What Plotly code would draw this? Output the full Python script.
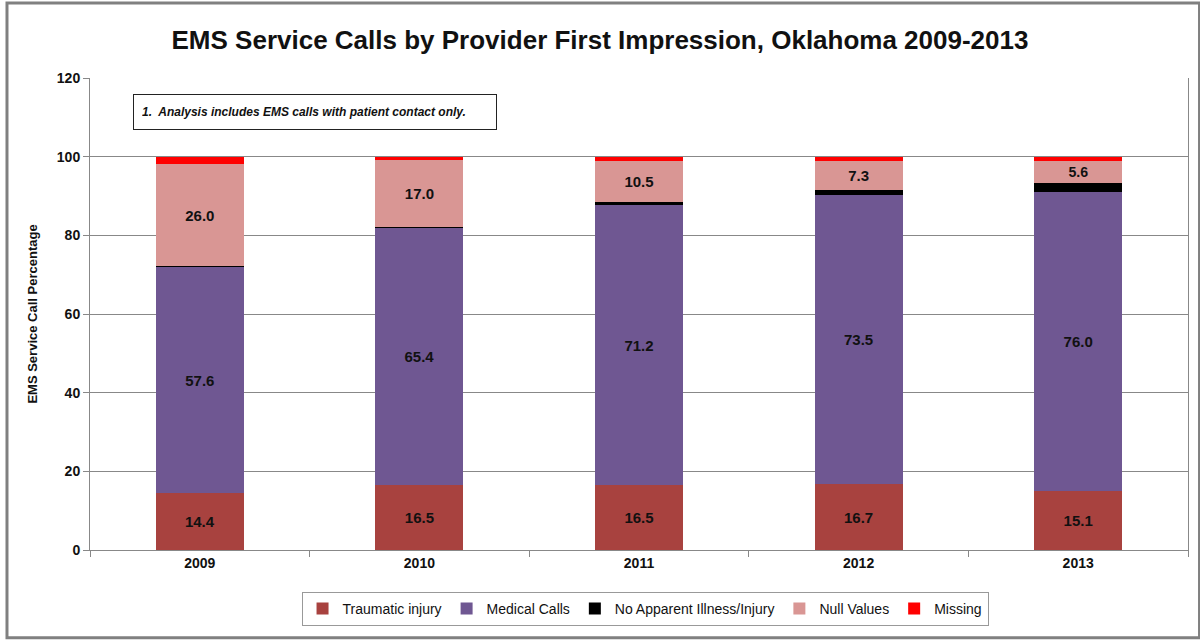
import plotly.graph_objects as go

years = ["2009", "2010", "2011", "2012", "2013"]
traumatic = [14.4, 16.5, 16.5, 16.7, 15.1]
medical = [57.6, 65.4, 71.2, 73.5, 76.0]
no_apparent = [0.1, 0.3, 0.8, 1.4, 2.3]
null_values = [26.0, 17.0, 10.5, 7.3, 5.6]
missing = [1.9, 0.8, 1.0, 1.1, 1.0]

FONT = "Liberation Sans Narrow, Arial Narrow, Liberation Sans, sans-serif"

series = [
    ("Traumatic injury", traumatic, "#A8423F", True),
    ("Medical Calls", medical, "#6F5792", True),
    ("No Apparent Illness/Injury", no_apparent, "#000000", False),
    ("Null Values", null_values, "#D99694", True),
    ("Missing", missing, "#FF0000", False),
]

fig = go.Figure()
for name, vals, color, labelled in series:
    fig.add_trace(go.Bar(
        x=years, y=vals, name=name,
        marker=dict(color=color, line=dict(width=0)),
        text=[f"{v:.1f}" for v in vals] if labelled else None,
        textposition="inside" if labelled else "none",
        insidetextanchor="middle",
        textangle=0,
        textfont=dict(family=FONT, size=15, color="#111111", weight="bold"),
    ))

fig.update_layout(
    barmode="stack",
    bargap=0.6,
    width=1200, height=640,
    margin=dict(l=90, r=12, t=78, b=90),
    paper_bgcolor="white", plot_bgcolor="white",
    font=dict(family=FONT, color="#111111"),
    title=dict(
        text="<b>EMS Service Calls by Provider First Impression, Oklahoma 2009-2013</b>",
        x=0.5, xanchor="center", y=0.937, yanchor="middle",
        font=dict(family=FONT, size=26, color="#111111"),
    ),
    legend=dict(
        orientation="h", x=0.5055, xanchor="center", y=-0.125, yanchor="middle",
        bordercolor="#999999", borderwidth=1,
        font=dict(family=FONT, size=14, color="#111111"),
        traceorder="normal", itemwidth=30,
    ),
    showlegend=True,
)

fig.update_xaxes(
    type="category",
    showline=True, linecolor="#888888", linewidth=1,
    ticks="outside", tickson="boundaries", ticklen=6, tickcolor="#888888",
    tickfont=dict(family=FONT, size=14, color="#111111", weight="bold"),
    showgrid=False,
)
fig.update_yaxes(
    range=[0, 120], dtick=20,
    showline=True, linecolor="#888888", linewidth=1, mirror=True,
    ticks="outside", ticklen=6, tickcolor="#888888",
    showgrid=True, gridcolor="#888888", gridwidth=1,
    tickfont=dict(family=FONT, size=14, color="#111111", weight="bold"),
    title=dict(text="<b>EMS Service Call Percentage</b>", standoff=16,
               font=dict(family=FONT, size=13, color="#111111")),
)

fig.add_annotation(
    xref="paper", yref="paper", x=0.039, y=0.927, xanchor="left", yanchor="middle",
    text="<b><i>1.  Analysis includes EMS calls with patient contact only.</i></b>",
    showarrow=False, align="left",
    font=dict(family=FONT, size=12, color="#111111"),
    bordercolor="#222222", borderwidth=1, borderpad=8,
    bgcolor="white", width=346, height=18,
)

# outer frame of the chart
fig.add_shape(
    type="rect", xref="paper", yref="paper",
    x0=-0.0756, x1=1.0105, y0=-0.186, y1=1.159,
    line=dict(color="#808080", width=3), layer="below",
)

fig.write_html("out.html", config={"displayModeBar": False},
               post_script="document.body.style.margin='0';")
